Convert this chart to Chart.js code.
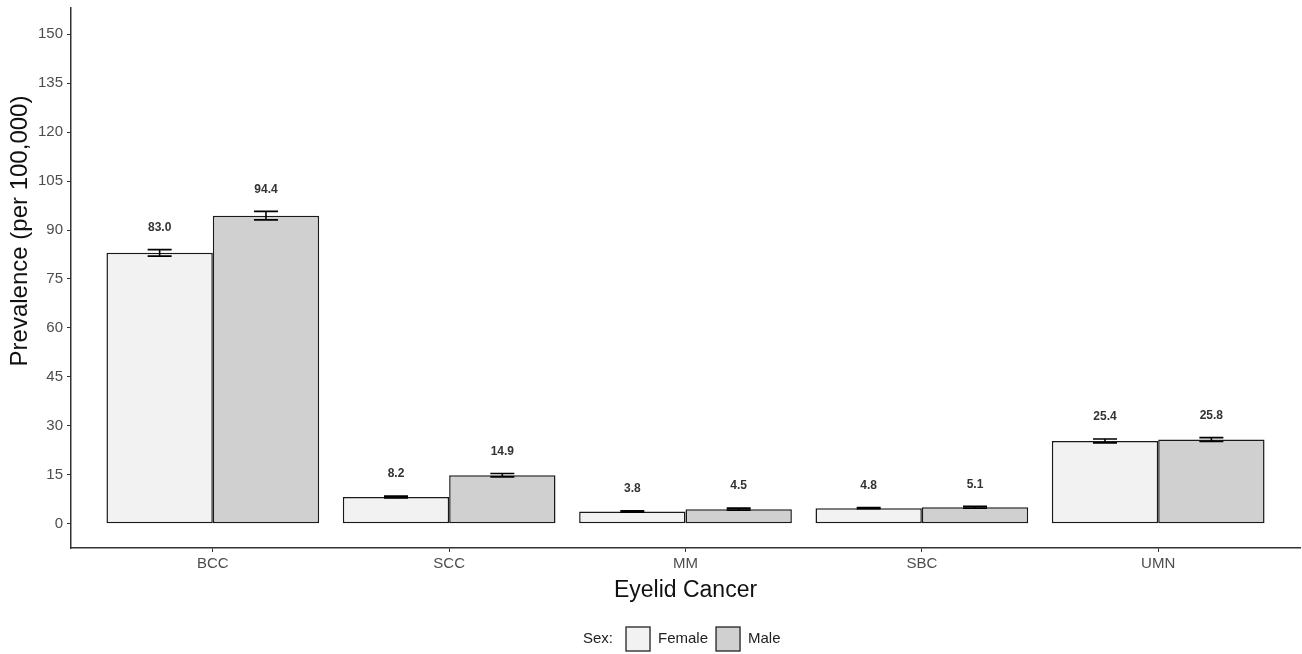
<!DOCTYPE html>
<html>
<head>
    <title>Eyelid Cancer Prevalence</title>
    <script src="https://cdn.jsdelivr.net/npm/chart.js"></script>
    <style>
        body { margin: 0; background: #fff; }
        #wrap { width: 1302px; height: 654px; }
    </style>
</head>
<body>
    <div id="wrap"><canvas id="chart"></canvas></div>

    <script>
        const categories = ['BCC', 'SCC', 'MM', 'SBC', 'UMN'];
        const seriesNames = ['Female', 'Male'];
        const femaleValues = [83.0, 8.2, 3.8, 4.8, 25.4];
        const maleValues = [94.4, 14.9, 4.5, 5.1, 25.8];
        const femaleErr = [1.0, 0.3, 0.2, 0.2, 0.6];
        const maleErr = [1.3, 0.5, 0.3, 0.3, 0.6];
        const yTicks = [0, 15, 30, 45, 60, 75, 90, 105, 120, 135, 150];
        const yTitle = 'Prevalence (per 100,000)';

        const fills = ['#f2f2f2', '#d0d0d0'];
        const tickColor = '#4d4d4d';
        const axisColor = '#333';

        const toPoints = vals => vals.map((v, i) => ({ x: i, y: v }));

        // error bars and value labels on top of each bar
        const errorBars = {
            id: 'errorBars',
            afterDatasetsDraw(chart) {
                const { ctx } = chart;
                const yScale = chart.scales.y;
                const errs = [femaleErr, maleErr];
                const vals = [femaleValues, maleValues];
                ctx.save();
                chart.data.datasets.forEach((ds, d) => {
                    const meta = chart.getDatasetMeta(d);
                    meta.data.forEach((bar, i) => {
                        const v = vals[d][i];
                        const e = errs[d][i];
                        const yHi = yScale.getPixelForValue(v + e);
                        const yLo = yScale.getPixelForValue(v - e);
                        const half = 12;
                        ctx.strokeStyle = '#000';
                        ctx.lineWidth = 1.6;
                        ctx.beginPath();
                        ctx.moveTo(bar.x - half, yHi); ctx.lineTo(bar.x + half, yHi);
                        ctx.moveTo(bar.x - half, yLo); ctx.lineTo(bar.x + half, yLo);
                        ctx.moveTo(bar.x, yHi); ctx.lineTo(bar.x, yLo);
                        ctx.stroke();

                        ctx.fillStyle = '#333';
                        ctx.font = 'bold 12px Arial';
                        ctx.textAlign = 'center';
                        ctx.textBaseline = 'middle';
                        ctx.fillText(v.toFixed(1), bar.x, yHi - 22);
                    });
                });
                ctx.restore();
            }
        };

        // y title sits a bit above the panel centre in the original, so draw it by hand
        const sideTitle = {
            id: 'sideTitle',
            afterDraw(chart) {
                const { ctx } = chart;
                ctx.save();
                ctx.translate(20, 231);
                ctx.rotate(-Math.PI / 2);
                ctx.font = '24px Arial';
                ctx.fillStyle = '#111';
                ctx.textAlign = 'center';
                ctx.textBaseline = 'middle';
                ctx.fillText(yTitle, 0, 0);
                ctx.restore();
            }
        };

        // ggplot style legend at the bottom: "Sex: [] Female [] Male"
        const bottomLegend = {
            id: 'bottomLegend',
            afterDraw(chart) {
                const { ctx } = chart;
                ctx.save();
                ctx.font = '15px Arial';
                ctx.textBaseline = 'middle';
                ctx.textAlign = 'left';
                const y = 639;
                const box = 24;
                let x = 583;
                ctx.fillStyle = '#222';
                ctx.fillText('Sex:', x, y);
                x += ctx.measureText('Sex:').width + 13;
                seriesNames.forEach((name, i) => {
                    ctx.fillStyle = fills[i];
                    ctx.fillRect(x, y - box / 2, box, box);
                    ctx.strokeStyle = '#222';
                    ctx.lineWidth = 1.3;
                    ctx.strokeRect(x, y - box / 2, box, box);
                    x += box + 8;
                    ctx.fillStyle = '#222';
                    ctx.fillText(name, x, y);
                    x += ctx.measureText(name).width + 8;
                });
                ctx.restore();
            }
        };

        new Chart(document.getElementById('chart'), {
            type: 'bar',
            data: {
                datasets: [
                    {
                        label: seriesNames[0],
                        data: toPoints(femaleValues),
                        backgroundColor: fills[0],
                        borderColor: '#1a1a1a',
                        borderWidth: 1.5,
                        borderSkipped: false,
                        categoryPercentage: 0.9,
                        barPercentage: 1.0
                    },
                    {
                        label: seriesNames[1],
                        data: toPoints(maleValues),
                        backgroundColor: fills[1],
                        borderColor: '#1a1a1a',
                        borderWidth: 1.5,
                        borderSkipped: false,
                        categoryPercentage: 0.9,
                        barPercentage: 1.0
                    }
                ]
            },
            options: {
                responsive: true,
                maintainAspectRatio: false,
                animation: false,
                layout: { padding: { top: 8, right: 2, left: 0, bottom: 48 } },
                plugins: {
                    legend: { display: false },
                    tooltip: { enabled: false }
                },
                scales: {
                    x: {
                        type: 'linear',
                        offset: false,
                        min: -0.6,
                        max: 4.6,
                        afterBuildTicks(scale) {
                            scale.ticks = categories.map((c, i) => ({ value: i }));
                        },
                        afterFit(scale) { scale.height = 58; },
                        ticks: {
                            callback: v => categories[v],
                            color: tickColor,
                            font: { family: 'Arial', size: 15 },
                            padding: 3,
                            maxRotation: 0,
                            autoSkip: false
                        },
                        grid: {
                            offset: false,
                            drawOnChartArea: false,
                            drawTicks: true,
                            tickLength: 4,
                            color: axisColor
                        },
                        border: { color: axisColor, width: 1.5 },
                        title: {
                            display: true,
                            text: 'Eyelid Cancer',
                            color: '#111',
                            font: { family: 'Arial', size: 23 },
                            padding: { top: 2, bottom: 2 }
                        }
                    },
                    y: {
                        min: -7.4,
                        max: 158,
                        afterBuildTicks(scale) {
                            scale.ticks = yTicks.map(v => ({ value: v }));
                        },
                        afterFit(scale) {
                            scale.width = 71;
                            scale.paddingTop = 0;
                            scale.paddingBottom = 0;
                        },
                        ticks: {
                            color: tickColor,
                            font: { family: 'Arial', size: 15 },
                            padding: 4
                        },
                        grid: {
                            drawOnChartArea: false,
                            drawTicks: true,
                            tickLength: 4,
                            color: axisColor
                        },
                        border: { color: axisColor, width: 1.5 }
                    }
                }
            },
            plugins: [errorBars, sideTitle, bottomLegend]
        });
    </script>
</body>
</html>
